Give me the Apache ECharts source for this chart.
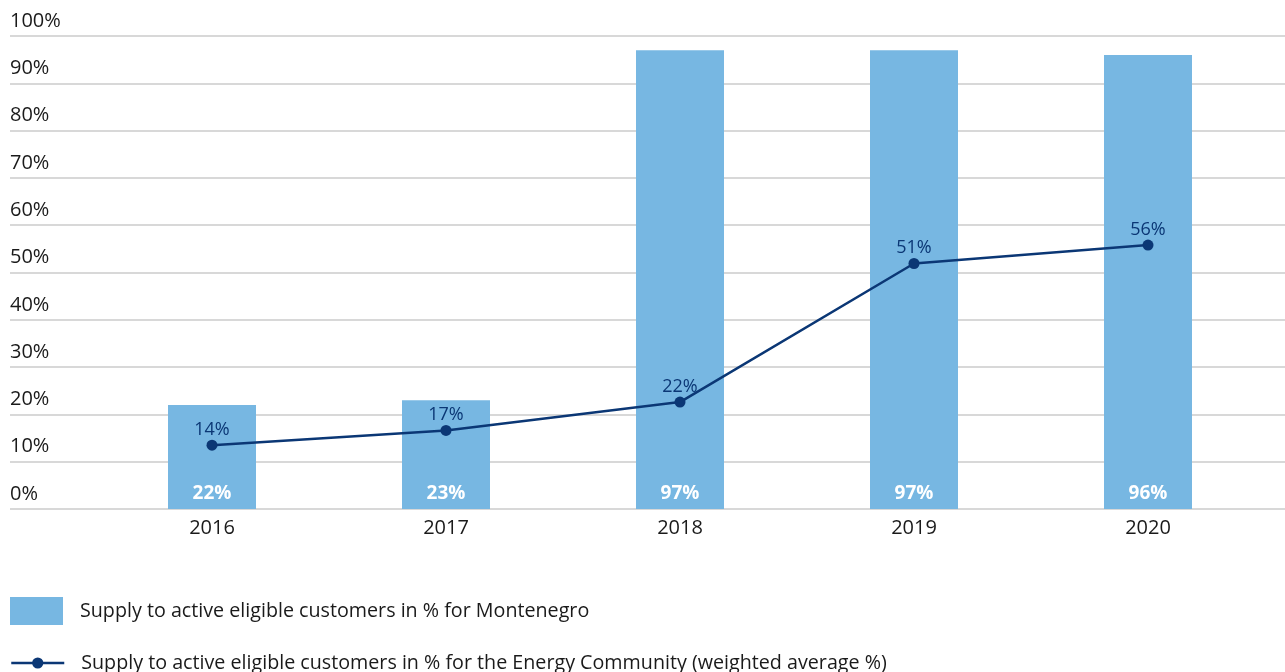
<!DOCTYPE html>
<html><head><meta charset="utf-8">
<script src="https://cdn.jsdelivr.net/npm/echarts@6/dist/echarts.min.js"></script>
<style>html,body{margin:0;padding:0;background:#fff}#c{width:1285px;height:672px}</style>
</head><body><div id="c"></div>
<script>
const years = ['2016','2017','2018','2019','2020'];
const montenegro = [22, 23, 97, 97, 96];
const energyCommunity = [13.5, 16.6, 22.6, 51.9, 55.8];
const energyCommunityLabels = ['14%','17%','22%','51%','56%'];
const yTicks = [0,10,20,30,40,50,60,70,80,90,100];
const barName = 'Supply to active eligible customers in % for Montenegro';
const lineName = 'Supply to active eligible customers in % for the Energy Community (weighted average %)';

const FONT = 'Open Sans';
const chart = echarts.init(document.getElementById('c'));
chart.setOption({
  animation: false,
  textStyle: {fontFamily: FONT},
  grid: [
    {left: 10, right: 0, top: 36, bottom: 163},
    {left: 95, right: 20, top: 36, bottom: 163}
  ],
  xAxis: [
    {gridIndex: 0, type: 'category', data: years, show: false},
    {gridIndex: 1, type: 'category', data: years,
     axisLine: {show: false}, axisTick: {show: false},
     axisLabel: {fontSize: 20, color: '#1a1a1a', margin: 9, fontFamily: FONT}}
  ],
  yAxis: [
    {gridIndex: 0, type: 'value', min: 0, max: 100, interval: 10,
     axisLine: {show: false}, axisTick: {show: false},
     splitLine: {lineStyle: {color: '#cbcbcb', width: 1.5}},
     axisLabel: {inside: true, margin: 0, align: 'left', verticalAlign: 'bottom',
       padding: [0, 0, 5, 0], fontSize: 20, color: '#1a1a1a', fontFamily: FONT,
       formatter: v => yTicks.includes(v) ? v + '%' : ''}},
    {gridIndex: 1, type: 'value', min: 0, max: 100, interval: 10, show: false}
  ],
  legend: [
    {data: [barName], left: 10, top: 597, padding: 0, itemWidth: 53, itemHeight: 28,
     icon: 'rect', textStyle: {fontSize: 19.7, color: '#1a1a1a', fontFamily: FONT, padding: [0,0,0,12]}},
    {data: [lineName], left: 10, top: 653, padding: 0, itemWidth: 53, itemHeight: 14,
     lineStyle: {width: 2.5},
     textStyle: {fontSize: 19.7, color: '#1a1a1a', fontFamily: FONT, padding: [0,0,0,12]}}
  ],
  series: [
    {name: barName, type: 'bar', xAxisIndex: 1, yAxisIndex: 1, data: montenegro,
     barWidth: 88, itemStyle: {color: '#77b7e2'},
     label: {show: true, position: 'insideBottom', distance: 6, color: '#ffffff',
       fontWeight: 'bold', fontSize: 19, fontFamily: FONT, formatter: p => p.value + '%'}},
    {name: lineName, type: 'line', xAxisIndex: 1, yAxisIndex: 1, data: energyCommunity,
     symbol: 'circle', symbolSize: 11, z: 5,
     lineStyle: {color: '#0b3775', width: 2.5}, itemStyle: {color: '#0b3775'},
     label: {show: true, position: 'top', distance: 1, color: '#0b3775', fontSize: 18,
       fontFamily: FONT, formatter: p => energyCommunityLabels[p.dataIndex]}}
  ]
});
</script></body></html>
